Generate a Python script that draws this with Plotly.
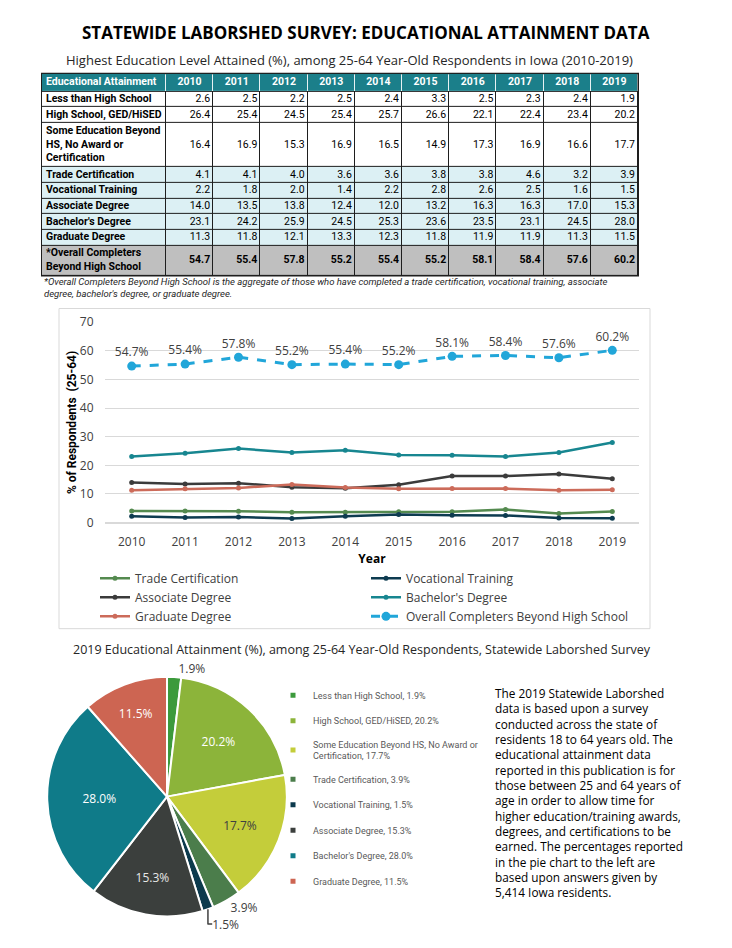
import plotly.graph_objects as go

W, H = 732, 948

# ---------------- data ----------------
years = [2010, 2011, 2012, 2013, 2014, 2015, 2016, 2017, 2018, 2019]
categories = ["Less than High School", "High School, GED/HiSED",
              "Some Education Beyond HS, No Award or Certification",
              "Trade Certification", "Vocational Training", "Associate Degree",
              "Bachelor's Degree", "Graduate Degree"]
table_header = "Educational Attainment"
table_labels = ["Less than High School", "High School, GED/HiSED",
                "Some Education Beyond<br>HS, No Award or<br>Certification",
                "Trade Certification", "Vocational Training", "Associate Degree",
                "Bachelor's Degree", "Graduate Degree",
                "*Overall Completers<br>Beyond High School"]
less_hs = [2.6, 2.5, 2.2, 2.5, 2.4, 3.3, 2.5, 2.3, 2.4, 1.9]
high_school = [26.4, 25.4, 24.5, 25.4, 25.7, 26.6, 22.1, 22.4, 23.4, 20.2]
some_ed = [16.4, 16.9, 15.3, 16.9, 16.5, 14.9, 17.3, 16.9, 16.6, 17.7]
trade = [4.1, 4.1, 4.0, 3.6, 3.6, 3.8, 3.8, 4.6, 3.2, 3.9]
vocational = [2.2, 1.8, 2.0, 1.4, 2.2, 2.8, 2.6, 2.5, 1.6, 1.5]
associate = [14.0, 13.5, 13.8, 12.4, 12.0, 13.2, 16.3, 16.3, 17.0, 15.3]
bachelors = [23.1, 24.2, 25.9, 24.5, 25.3, 23.6, 23.5, 23.1, 24.5, 28.0]
graduate = [11.3, 11.8, 12.1, 13.3, 12.3, 11.8, 11.9, 11.9, 11.3, 11.5]
overall = [54.7, 55.4, 57.8, 55.2, 55.4, 55.2, 58.1, 58.4, 57.6, 60.2]
pie_values_2019 = [1.9, 20.2, 17.7, 3.9, 1.5, 15.3, 28.0, 11.5]
pie_legend_labels = ["Less than High School, 1.9%", "High School, GED/HiSED, 20.2%",
                     "Some Education Beyond HS, No Award or<br>Certification, 17.7%",
                     "Trade Certification, 3.9%", "Vocational Training, 1.5%",
                     "Associate Degree, 15.3%", "Bachelor's Degree, 28.0%",
                     "Graduate Degree, 11.5%"]

# ---------------- styles ----------------
ROBO = "Roboto, sans-serif"
OPEN = "Open Sans, sans-serif"
pie_colors = ["#3c9a3c", "#8cb43a", "#c4cd3a", "#4b7d4b", "#0c3a4d", "#3b3f3d", "#0f7b89", "#cd6552"]
line_colors = {"Trade Certification": "#548a4f", "Vocational Training": "#0d3b50",
               "Associate Degree": "#3b3b3b", "Bachelor's Degree": "#178690",
               "Graduate Degree": "#cc6b5a"}
# table fill colours: 0 white, 1 light blue, 2 grey, 3 teal header
table_scale = [[0, "#ffffff"], [1 / 3, "#dcf0f4"], [2 / 3, "#bfbfbf"], [1, "#1b7f8a"]]
row_fill_code = [0, 0, 0, 1, 1, 1, 1, 1, 2]


def fx(x):
    return x / W


def fy(y):
    return 1 - y / H


fig = go.Figure()

# ---------------- table (heatmap cells + text) ----------------
rows = [less_hs, high_school, some_ed, trade, vocational, associate, bachelors, graduate, overall]
TABLE_LEFT, TABLE_TOP = 42, 66
PAD_L, PAD_R = 4, 3
col_w = [124] + [47.2] * len(years)
x_edges = [0.0]
for w in col_w:
    x_edges.append(x_edges[-1] + w)
n_lines = [t.count("<br>") + 1 for t in table_labels]
row_h = [18] + [16 + 14.5 * (n - 1) for n in n_lines]
y_edges = [0.0]
for h in row_h:
    y_edges.append(y_edges[-1] + h)
TW, TH = x_edges[-1], y_edges[-1]
x_mid = [(x_edges[i] + x_edges[i + 1]) / 2 for i in range(len(col_w))]
y_mid = [(y_edges[i] + y_edges[i + 1]) / 2 for i in range(len(row_h))]

z = [[3] * len(col_w)] + [[c] * len(col_w) for c in row_fill_code]
fig.add_trace(go.Heatmap(z=z, x=x_edges, y=y_edges, xaxis="x2", yaxis="y2",
                         colorscale=table_scale, zmin=0, zmax=3, showscale=False,
                         xgap=1, ygap=1, hoverinfo="skip"))
# header text
fig.add_trace(go.Scatter(x=[x_edges[0] + PAD_L], y=[y_mid[0]], mode="text", xaxis="x2", yaxis="y2",
                         text=[f"<b>{table_header}</b>"], textposition="middle right",
                         textfont=dict(family=ROBO, size=10.5, color="white"),
                         showlegend=False, hoverinfo="skip", cliponaxis=False))
fig.add_trace(go.Scatter(x=x_mid[1:], y=[y_mid[0]] * len(years), mode="text", xaxis="x2", yaxis="y2",
                         text=[f"<b>{y}</b>" for y in years], textposition="middle center",
                         textfont=dict(family=ROBO, size=10.5, color="white"),
                         showlegend=False, hoverinfo="skip", cliponaxis=False))
# row labels
fig.add_trace(go.Scatter(x=[x_edges[0] + PAD_L] * len(table_labels), y=y_mid[1:], mode="text",
                         xaxis="x2", yaxis="y2",
                         text=[f"<b>{t}</b>" for t in table_labels], textposition="middle right",
                         textfont=dict(family=ROBO, size=10.5, color="black"),
                         showlegend=False, hoverinfo="skip", cliponaxis=False))
# values
for i, r in enumerate(rows):
    bold = (i == len(rows) - 1)
    fig.add_trace(go.Scatter(x=[x_edges[j + 2] - PAD_R for j in range(len(years))],
                             y=[y_mid[i + 1]] * len(years), mode="text", xaxis="x2", yaxis="y2",
                             text=[(f"<b>{v:.1f}</b>" if bold else f"{v:.1f}") for v in r],
                             textposition="middle left",
                             textfont=dict(family=ROBO, size=10.5, color="black"),
                             showlegend=False, hoverinfo="skip", cliponaxis=False))

# ---------------- line chart ----------------
series = [("Trade Certification", trade), ("Vocational Training", vocational),
          ("Associate Degree", associate), ("Bachelor's Degree", bachelors),
          ("Graduate Degree", graduate)]
for name, vals in series:
    fig.add_trace(go.Scatter(x=years, y=vals, name=name, mode="lines+markers",
                             line=dict(color=line_colors[name], width=2.5),
                             marker=dict(size=5, color=line_colors[name]),
                             legend="legend"))
fig.add_trace(go.Scatter(x=years, y=overall, name="Overall Completers Beyond High School",
                         mode="lines+markers+text", text=[f"{v}%" for v in overall],
                         textposition="top center",
                         textfont=dict(family=OPEN, size=12, color="#404040"),
                         line=dict(color="#21a6d9", width=3, dash="dash"),
                         marker=dict(size=9, color="#21a6d9"), legend="legend"))

# ---------------- pie ----------------
txtpos = ["outside", "inside", "inside", "outside", "outside", "inside", "inside", "inside"]
inside_colors = ["white", "white", "#404040", "white", "white", "#e8e8e8", "white", "white"]
fig.add_trace(go.Pie(values=pie_values_2019, labels=categories, sort=False,
                     direction="clockwise", rotation=0,
                     marker=dict(colors=pie_colors, line=dict(color="white", width=2)),
                     texttemplate="%{value:.1f}%", textposition=txtpos,
                     insidetextfont=dict(family=OPEN, size=12, color=inside_colors),
                     outsidetextfont=dict(family=OPEN, size=12, color="#404040"),
                     insidetextorientation="horizontal",
                     domain=dict(x=[fx(45), fx(289)], y=[fy(924), fy(680)]),
                     showlegend=False, hoverinfo="label+percent"))

# pie legend entries (one per slice)
for lab, col in zip(pie_legend_labels, pie_colors):
    fig.add_trace(go.Scatter(x=[None], y=[None], mode="markers", name=lab,
                             marker=dict(symbol="square", size=5, color=col),
                             legend="legend2", legendgroup=lab, showlegend=True))

# ---------------- annotations ----------------
ann = []
ann.append(dict(text="<b>STATEWIDE LABORSHED SURVEY: EDUCATIONAL ATTAINMENT DATA</b>",
                x=fx(366), y=fy(24), font=dict(family=OPEN, size=17, color="black")))
ann.append(dict(text="Highest Education Level Attained (%), among 25-64 Year-Old Respondents in Iowa (2010-2019)",
                x=fx(349), y=fy(52), font=dict(family=OPEN, size=13, color="#262626")))
ann.append(dict(text="<i>*Overall Completers Beyond High School is the aggregate of those who have completed a trade certification, vocational training, associate<br>degree, bachelor's degree, or graduate degree.</i>",
                x=fx(42), y=fy(TABLE_TOP + TH + 12), xanchor="left", yanchor="middle", align="left",
                font=dict(family=ROBO, size=9.5, color="#262626")))
ann.append(dict(text="2019 Educational Attainment (%), among 25-64 Year-Old Respondents, Statewide Laborshed Survey",
                x=fx(362), y=fy(652), font=dict(family=OPEN, size=12.5, color="#262626")))
para = ("The 2019 Statewide Laborshed<br>data is based upon a survey<br>conducted across the state of<br>"
        "residents 18 to 64 years old. The<br>educational attainment data<br>"
        "reported in this publication is for<br>those between 25 and 64 years of<br>"
        "age in order to allow time for<br>higher education/training awards,<br>"
        "degrees, and certifications to be<br>earned. The percentages reported<br>"
        "in the pie chart to the left are<br>based upon answers given by<br>5,414 Iowa residents.")
ann.append(dict(text=para, x=fx(493), y=fy(686), xanchor="left", yanchor="top", align="left",
                font=dict(family=OPEN, size=11.8, color="black")))
for a in ann:
    a.setdefault("xanchor", "center")
    a.setdefault("yanchor", "middle")
    a.update(xref="paper", yref="paper", showarrow=False)

shapes = [
    # table grid colour (shows through the cell gaps)
    dict(type="rect", xref="paper", yref="paper",
         x0=fx(TABLE_LEFT - 1), x1=fx(TABLE_LEFT + TW + 1),
         y0=fy(TABLE_TOP + TH + 1), y1=fy(TABLE_TOP - 1),
         fillcolor="#1e1e1e", line=dict(width=0), layer="below"),
    # lighter separators inside the header row
    dict(type="rect", xref="paper", yref="paper",
         x0=fx(TABLE_LEFT + 0.5), x1=fx(TABLE_LEFT + TW - 0.5),
         y0=fy(TABLE_TOP + row_h[0] - 0.5), y1=fy(TABLE_TOP + 0.5),
         fillcolor="#e6f2f3", line=dict(width=0), layer="below"),
    # line chart frame
    dict(type="rect", xref="paper", yref="paper", x0=fx(59), x1=fx(650),
         y0=fy(631), y1=fy(305), line=dict(color="#d9d9d9", width=1), layer="below"),
]

fig.update_layout(
    width=W, height=H, margin=dict(l=0, r=0, t=0, b=0),
    paper_bgcolor="white", plot_bgcolor="white",
    annotations=ann, shapes=shapes,
    xaxis=dict(domain=[fx(105), fx(639)], range=[2009.5, 2019.5], dtick=1, tick0=2010,
               showgrid=False, zeroline=False, showline=False,
               ticks="outside", ticklen=8, tickcolor="rgba(0,0,0,0)",
               tickfont=dict(family=OPEN, size=12, color="#404040"),
               title=dict(text="<b>Year</b>", font=dict(family=OPEN, size=12, color="black"), standoff=4)),
    yaxis=dict(domain=[fy(523), fy(319)], range=[0, 70], dtick=10,
               showgrid=True, gridcolor="#d9d9d9", zeroline=True, zerolinecolor="#d9d9d9",
               showline=False, ticks="outside", ticklen=8, tickcolor="rgba(0,0,0,0)",
               tickfont=dict(family=OPEN, size=12, color="#404040"),
               title=dict(text="<b>% of Respondents  (25-64)</b>",
                          font=dict(family=ROBO, size=12, color="black"), standoff=0)),
    xaxis2=dict(domain=[fx(TABLE_LEFT), fx(TABLE_LEFT + TW)], range=[0, TW], visible=False,
                fixedrange=True, anchor="y2"),
    yaxis2=dict(domain=[fy(TABLE_TOP + TH), fy(TABLE_TOP)], range=[TH, 0], visible=False,
                fixedrange=True, anchor="x2"),
    legend=dict(orientation="h", x=fx(95), y=fy(565), xanchor="left", yanchor="top",
                entrywidth=226, entrywidthmode="pixels", traceorder="normal",
                font=dict(family=OPEN, size=12, color="#404040"), bgcolor="rgba(0,0,0,0)"),
    legend2=dict(orientation="v", x=fx(273), y=fy(684), xanchor="left", yanchor="top",
                 tracegroupgap=6.5, traceorder="grouped",
                 font=dict(family=ROBO, size=9, color="#595959"), bgcolor="rgba(0,0,0,0)"),
)

fig.write_html("out.html", config={"displayModeBar": False},
               post_script="document.body.style.margin='0px';")
